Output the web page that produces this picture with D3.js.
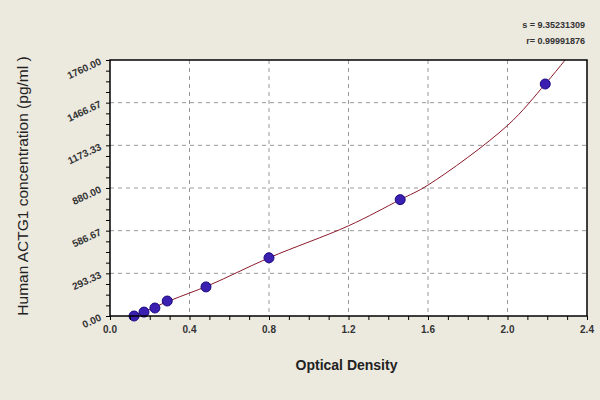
<!DOCTYPE html><html><head><meta charset="utf-8"><script src="https://d3js.org/d3.v7.min.js"></script>
<style>body{margin:0;background:#ECE9DF}</style></head><body><svg id="c" width="600" height="400"></svg>
<script>
const od=[0.121,0.171,0.226,0.288,0.483,0.800,1.460,2.190];
const conc=[0,27,55,103,200,400,800,1595];
const curveOd=[0.121,0.3,0.5,0.8,1.2,1.46,1.6,2.0,2.19,2.29,2.36];
const curveConc=[0,105,212,400,620,800,900,1310,1595,1760,1880];
const xTicks=[0,0.4,0.8,1.2,1.6,2.0,2.4];
const yTicks=[0,293.33,586.67,880,1173.33,1466.67,1760];
const yLabels=["0.00","293.33","586.67","880.00","1173.33","1466.67","1760.00"];
const svg=d3.select("#c");
svg.append("rect").attr("width",600).attr("height",400).attr("fill","#ECE9DF");
const L=110,R=587,T=60,B=316;
const x=d3.scaleLinear().domain([0,2.4]).range([L,R]);
const y=d3.scaleLinear().domain([0,1760]).range([B,T]);
svg.append("rect").attr("x",L).attr("y",T).attr("width",R-L).attr("height",B-T).attr("fill","#fff");
const g=svg.append("g");
xTicks.slice(1,-1).forEach(t=>g.append("line").attr("x1",x(t)).attr("x2",x(t)).attr("y1",T).attr("y2",B).attr("stroke","#999").attr("stroke-dasharray","4,4"));
yTicks.slice(1,-1).forEach(t=>g.append("line").attr("x1",L).attr("x2",R).attr("y1",y(t)).attr("y2",y(t)).attr("stroke","#999").attr("stroke-dasharray","4,4"));
svg.append("defs").append("clipPath").attr("id","cp").append("rect").attr("x",L).attr("y",T).attr("width",R-L).attr("height",B-T);
const pts=curveOd.map((d,i)=>[d,curveConc[i]]);
svg.append("path").attr("clip-path","url(#cp)").attr("d",d3.line().x(d=>x(d[0])).y(d=>y(d[1])).curve(d3.curveCatmullRom)(pts)).attr("fill","none").attr("stroke","#8B1A2B").attr("stroke-width",1);
od.forEach((d,i)=>svg.append("circle").attr("cx",x(d)).attr("cy",y(conc[i])).attr("r",5).attr("fill","#3A1FB0").attr("stroke","#1a0a80"));
svg.append("rect").attr("x",L).attr("y",T).attr("width",R-L).attr("height",B-T).attr("fill","none").attr("stroke","#000").attr("stroke-width",1.5);
const xa=svg.append("g").attr("transform",`translate(0,${B})`).call(d3.axisBottom(x).tickValues(d3.range(0,2.41,0.1)).tickSize(4).tickFormat(""));
xa.select(".domain").remove();
const ya=svg.append("g").attr("transform",`translate(${L},0)`).call(d3.axisLeft(y).tickValues(d3.range(0,1761,1760/24)).tickSize(4).tickFormat(""));
ya.select(".domain").remove();
svg.selectAll(".tick line").attr("stroke","#000");
xTicks.forEach(t=>svg.append("text").attr("x",x(t)).attr("y",B+17).attr("text-anchor","middle").attr("font-family","Liberation Sans,Arial").attr("font-size",10).attr("font-weight","bold").attr("fill","#333").text(t.toFixed(1)));
yTicks.forEach((t,i)=>svg.append("text").attr("transform",`translate(${L-8},${y(t)+4}) rotate(-25)`).attr("text-anchor","end").attr("font-family","Liberation Sans,Arial").attr("font-size",10).attr("font-weight","bold").attr("fill","#333").text(yLabels[i]));
svg.append("text").attr("x",(L+R)/2-2).attr("y",370).attr("text-anchor","middle").attr("font-family","Liberation Sans,Arial").attr("font-size",14).attr("font-weight","bold").attr("fill","#222").text("Optical Density");
svg.append("text").attr("transform","translate(28,186) rotate(-90)").attr("text-anchor","middle").attr("font-family","Liberation Sans,Arial").attr("font-size",15.5).attr("fill","#222").text("Human ACTG1 concentration (pg/ml )");
svg.append("text").attr("x",585).attr("y",28).attr("text-anchor","end").attr("font-family","Liberation Sans,Arial").attr("font-size",9).attr("font-weight","bold").attr("fill","#333").text("s = 9.35231309");
svg.append("text").attr("x",585).attr("y",44).attr("text-anchor","end").attr("font-family","Liberation Sans,Arial").attr("font-size",9).attr("font-weight","bold").attr("fill","#333").text("r= 0.99991876");
</script></body></html>
